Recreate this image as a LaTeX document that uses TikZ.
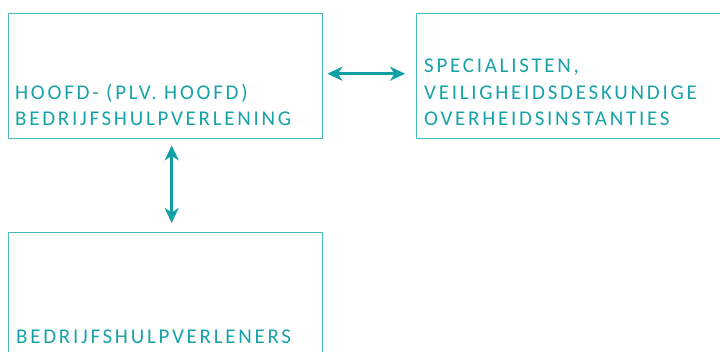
\documentclass[tikz,border=0pt]{standalone}
\usepackage{fontspec}
\setmainfont{Carlito}[LetterSpace=13]
\usetikzlibrary{arrows.meta,calc}
\definecolor{tealtext}{HTML}{17A2A8}
\definecolor{tealline}{HTML}{45BDC2}
\definecolor{tealarrow}{HTML}{12A0A7}
\tikzset{
  boxframe/.style={draw=tealline,line width=1.4pt,inner sep=0pt,anchor=north west},
  boxlabel/.style={text=tealtext,inner sep=0pt,anchor=south west,align=left,text depth=0pt,
    font=\fontsize{21}{26.8}\selectfont},
  dblarrow/.style={draw=tealarrow,line width=2.6pt,
    {Stealth[length=15pt,width=14pt,inset=4.5pt]}-{Stealth[length=15pt,width=14pt,inset=4.5pt]}}
}
\begin{document}
\begin{tikzpicture}[x=1pt,y=-1pt]
\clip (0,0) rectangle (720,351);
\node[boxframe,minimum width=314pt,minimum height=125pt] (hoofd) at (8,12.5) {};
\node[boxframe,minimum width=320pt,minimum height=125pt] (spec) at (416,12.5) {};
\node[boxframe,minimum width=314pt,minimum height=140pt] (bhv) at (8,232) {};
\node[boxlabel] (thoofd) at (15,126) {HOOFD- (PLV. HOOFD)\\BEDRIJFSHULPVERLENING};
\node[boxlabel] (tspec) at (424,126) {SPECIALISTEN,\\VEILIGHEIDSDESKUNDIGE\\OVERHEIDSINSTANTIES};
\node[boxlabel] (tbhv) at (16,344) {BEDRIJFSHULPVERLENERS};
\draw[dblarrow] ($(hoofd.east)+(4,-2)$) -- ($(spec.west)+(-11,-2)$);
\draw[dblarrow] ($(hoofd.south)+(6,6.5)$) -- ($(bhv.north)+(6,-9)$);
\end{tikzpicture}
\end{document}
